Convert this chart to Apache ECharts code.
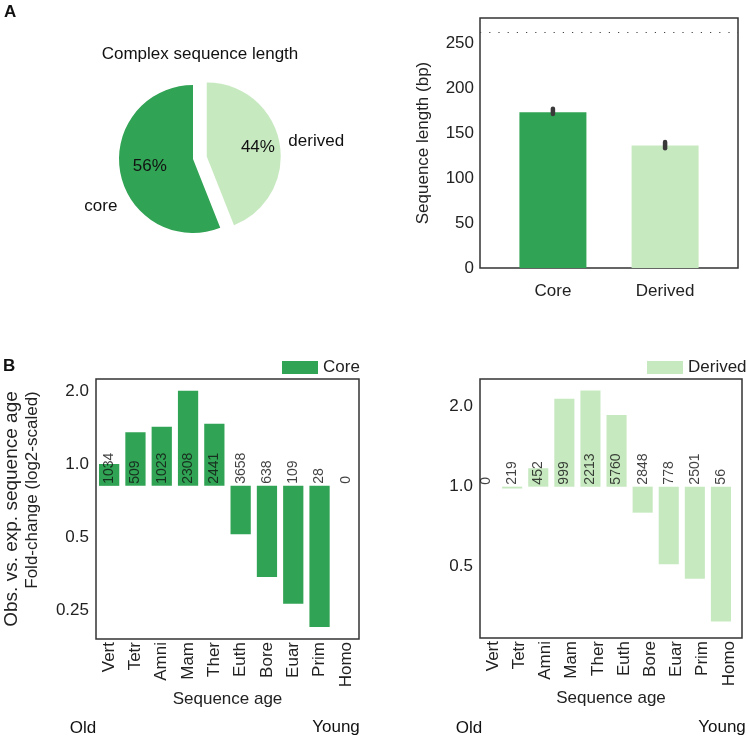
<!DOCTYPE html>
<html>
<head>
<meta charset="utf-8">
<script src="https://cdn.jsdelivr.net/npm/echarts@6/dist/echarts.min.js"></script>
<style>
html, body { margin: 0; padding: 0; background: #fff; }
#main { width: 750px; height: 740px; }
</style>
</head>
<body>
<div id="main"></div>
<script>
// pie: share of complex sequence length
var pieNames = ['derived', 'core'];
var pieShares = [44, 56];

// bar: mean sequence length with CI
var lengthCats = ['Core', 'Derived'];
var lengthMeans = [173, 136];
var lengthLow = [171, 133];
var lengthHigh = [177, 140];
var lengthTicks = [0, 50, 100, 150, 200, 250];
var lengthRef = 262;

// fold change by sequence age
var ageLabels = ['Vert', 'Tetr', 'Amni', 'Mam', 'Ther', 'Euth', 'Bore', 'Euar', 'Prim', 'Homo'];
var coreFold = [1.23, 1.66, 1.75, 2.46, 1.80, 0.633, 0.422, 0.328, 0.263, null];
var coreCounts = [1034, 509, 1023, 2308, 2441, 3658, 638, 109, 28, 0];
var derivedFold = [null, 0.984, 1.173, 2.14, 2.30, 1.86, 0.798, 0.511, 0.450, 0.311];
var derivedCounts = [0, 219, 452, 999, 2213, 5760, 2848, 778, 2501, 56];
var coreTicks = [0.25, 0.5, 1, 2];
var derivedTicks = [0.5, 1, 2];

var CORE = '#31a354';
var DERIVED = '#c7e9c0';
var FONT = 'Liberation Sans';
var TXT = '#222';

function fmtFold(v) {
	var r = Math.round(v * 100) / 100;
	return r >= 1 ? r.toFixed(1) : String(r);
}

var chart = echarts.init(document.getElementById('main'));

var baseText = { fontFamily: FONT, fontSize: 17, color: TXT };

function noLines(o) {
	o.axisTick = { show: false };
	o.splitLine = { show: false };
	o.axisLine = o.axisLine || { show: false };
	return o;
}

var option = {
	animation: false,
	backgroundColor: '#fff',
	textStyle: { fontFamily: FONT },
	graphic: [
		{ type: 'text', x: 4, y: 4, style: { text: 'A', font: 'bold 17px ' + FONT, fill: '#111' } },
		{ type: 'text', x: 3, y: 358, style: { text: 'B', font: 'bold 17px ' + FONT, fill: '#111' } },
		{ type: 'text', x: 200, y: 54, style: { text: 'Complex sequence length', font: '17px ' + FONT, fill: '#111', align: 'center', verticalAlign: 'middle' } },
		{ type: 'text', x: 83, y: 728, style: { text: 'Old', font: '17px ' + FONT, fill: '#111', align: 'center', verticalAlign: 'middle' } },
		{ type: 'text', x: 336, y: 727, style: { text: 'Young', font: '17px ' + FONT, fill: '#111', align: 'center', verticalAlign: 'middle' } },
		{ type: 'text', x: 469, y: 728, style: { text: 'Old', font: '17px ' + FONT, fill: '#111', align: 'center', verticalAlign: 'middle' } },
		{ type: 'text', x: 722, y: 727, style: { text: 'Young', font: '17px ' + FONT, fill: '#111', align: 'center', verticalAlign: 'middle' } }
	],
	legend: [{
		data: ['Core'], left: 282, top: 359, padding: 0, icon: 'rect',
		itemWidth: 36, itemHeight: 13, itemGap: 0, selectedMode: false,
		textStyle: baseText
	}, {
		data: ['Derived'], left: 647, top: 359, padding: 0, icon: 'rect',
		itemWidth: 36, itemHeight: 13, itemGap: 0, selectedMode: false,
		textStyle: baseText
	}],
	grid: [
		{ left: 480, top: 18, width: 258, height: 250, show: true, borderColor: '#333', borderWidth: 1.5, backgroundColor: 'transparent' },
		{ left: 92, top: 379, width: 267, height: 260, show: true, borderColor: '#333', borderWidth: 1.5, backgroundColor: 'transparent' },
		{ left: 480, top: 379, width: 262, height: 259, show: true, borderColor: '#333', borderWidth: 1.5, backgroundColor: 'transparent' },
		// bars of the derived panel sit a bit left of the tick labels
		{ left: 473, top: 379, width: 261, height: 259 }
	],
	xAxis: [
		noLines({
			gridIndex: 0, type: 'value', min: -0.65, max: 1.65,
			axisLabel: {
				customValues: [0, 1], margin: 15, fontSize: 17, color: TXT, fontFamily: FONT,
				formatter: function (v) { return lengthCats[Math.round(v)]; }
			}
		}),
		noLines({
			gridIndex: 1, type: 'category', data: ageLabels,
			axisLabel: { interval: 0, rotate: 90, margin: 3, fontSize: 17, color: TXT, fontFamily: FONT },
			name: 'Sequence age', nameLocation: 'middle', nameGap: 49, nameTextStyle: baseText
		}),
		noLines({
			gridIndex: 2, type: 'category', data: ageLabels,
			axisLabel: { interval: 0, rotate: 90, margin: 3, fontSize: 17, color: TXT, fontFamily: FONT },
			name: 'Sequence age', nameLocation: 'middle', nameGap: 49, nameTextStyle: baseText
		}),
		{ gridIndex: 3, type: 'category', data: ageLabels, show: false }
	],
	yAxis: [
		noLines({
			gridIndex: 0, type: 'value', min: 0, max: 277.7,
			axisLabel: { customValues: lengthTicks, margin: 6, fontSize: 17, color: TXT, fontFamily: FONT },
			name: 'Sequence length (bp)', nameLocation: 'middle', nameRotate: 90, nameGap: 48,
			nameTextStyle: baseText
		}),
		noLines({
			gridIndex: 1, type: 'log', logBase: 2, min: 0.191, max: 2.240,
			axisLabel: { customValues: coreTicks, formatter: fmtFold, margin: 7, fontSize: 17, color: TXT, fontFamily: FONT },
			name: '{a|Obs. vs. exp. sequence age}\n{b|Fold-change (log2-scaled)}',
			nameLocation: 'middle', nameRotate: 90, nameGap: 53,
			nameTextStyle: {
				fontFamily: FONT, fontSize: 17, color: TXT, lineHeight: 21,
				rich: {
					a: { fontFamily: FONT, fontSize: 19, color: TXT, lineHeight: 21, align: 'right' },
					b: { fontFamily: FONT, fontSize: 17, color: TXT, lineHeight: 21, align: 'right' }
				}
			}
		}),
		{ gridIndex: 1, type: 'log', logBase: 2, min: 0.2347, max: 2.749, show: false },
		noLines({
			gridIndex: 2, type: 'log', logBase: 2, min: 0.2694, max: 2.542,
			axisLabel: { customValues: derivedTicks, formatter: fmtFold, margin: 7, fontSize: 17, color: TXT, fontFamily: FONT }
		}),
		{ gridIndex: 3, type: 'log', logBase: 2, min: 0.2694, max: 2.542, show: false }
	],
	series: [
		{
			type: 'pie', center: [193, 159], radius: 74, startAngle: 90, clockwise: true,
			selectedMode: 'single', selectedOffset: 14, avoidLabelOverlap: false, silent: true,
			data: pieNames.map(function (n, i) {
				return { name: n, value: pieShares[i], selected: i === 0, itemStyle: { color: i === 0 ? DERIVED : CORE } };
			}),
			label: { show: true, position: 'outside', fontSize: 17, color: '#111', fontFamily: FONT, distanceToLabelLine: 5 },
			labelLine: { show: false, length: 4, length2: 0 },
			labelLayout: function (p) { return p.dataIndex === 1 ? { dx: 6, dy: 33 } : {}; },
			select: { itemStyle: { borderWidth: 0 } },
			emphasis: { disabled: true }
		},
		{
			type: 'pie', center: [193, 159], radius: [16, 74], startAngle: 90, clockwise: true,
			selectedMode: 'single', selectedOffset: 14, avoidLabelOverlap: false, silent: true,
			data: pieNames.map(function (n, i) {
				return { name: n, value: pieShares[i], selected: i === 0, itemStyle: { color: 'transparent' } };
			}),
			label: {
				show: true, position: 'inside', fontSize: 17, color: '#111', fontFamily: FONT,
				formatter: function (p) { return Math.round(p.percent) + '%'; }
			},
			labelLine: { show: false },
			labelLayout: function (p) { return p.dataIndex === 0 ? { dx: 4 } : { dx: 4, dy: -2 }; },
			select: { itemStyle: { borderWidth: 0 } },
			emphasis: { disabled: true }
		},
		{
			name: 'length', type: 'bar', xAxisIndex: 0, yAxisIndex: 0, barWidth: 67,
			data: lengthMeans.map(function (v, i) {
				return { value: [i, v], itemStyle: { color: i === 0 ? CORE : DERIVED } };
			}),
			markLine: {
				silent: true, symbol: 'none', label: { show: false },
				lineStyle: { type: [1.2, 8], color: '#444', width: 1.2 },
				data: [{ yAxis: lengthRef }]
			}
		},
		{
			type: 'custom', xAxisIndex: 0, yAxisIndex: 0, silent: true, z: 5,
			data: lengthLow.map(function (lo, i) { return [i, lo, lengthHigh[i]]; }),
			renderItem: function (params, api) {
				var a = api.coord([api.value(0), api.value(1)]);
				var b = api.coord([api.value(0), api.value(2)]);
				return {
					type: 'line',
					shape: { x1: a[0], y1: a[1], x2: b[0], y2: b[1] },
					style: { stroke: '#3a3a3a', lineWidth: 4.5, lineCap: 'round' }
				};
			}
		},
		{
			name: 'Core', type: 'bar', xAxisIndex: 1, yAxisIndex: 2, barWidth: '77%',
			itemStyle: { color: CORE }, data: coreFold
		},
		{
			type: 'scatter', xAxisIndex: 1, yAxisIndex: 2, symbolSize: 0, silent: true,
			data: coreCounts.map(function (c, i) { return [i, 1]; }),
			label: {
				show: true, position: 'top', distance: 2, rotate: 90, align: 'left', verticalAlign: 'middle',
				fontSize: 14, color: '#111', fontFamily: FONT,
				formatter: function (p) { return String(coreCounts[p.dataIndex]); }
			}
		},
		{
			name: 'Derived', type: 'bar', xAxisIndex: 3, yAxisIndex: 4, barWidth: '77%',
			itemStyle: { color: DERIVED }, data: derivedFold
		},
		{
			type: 'scatter', xAxisIndex: 3, yAxisIndex: 4, symbolSize: 0, silent: true,
			data: derivedCounts.map(function (c, i) { return [i, 1]; }),
			label: {
				show: true, position: 'top', distance: 2, rotate: 90, align: 'left', verticalAlign: 'middle',
				fontSize: 14, color: '#111', fontFamily: FONT,
				formatter: function (p) { return String(derivedCounts[p.dataIndex]); }
			}
		}
	]
};

chart.setOption(option);
window.addEventListener('resize', chart.resize);
</script>
</body>
</html>
